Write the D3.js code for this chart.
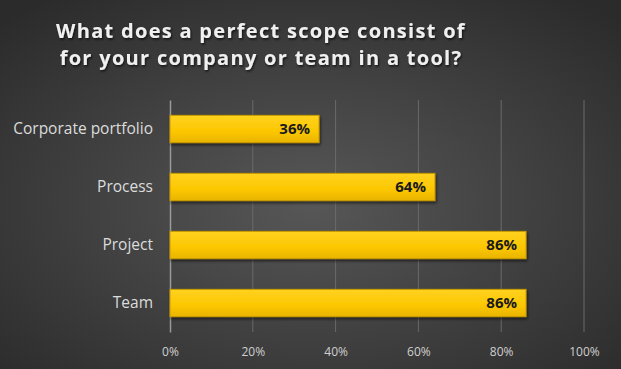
<!DOCTYPE html>
<html>
<head>
<meta charset="utf-8">
<script src="https://cdn.jsdelivr.net/npm/d3@7"></script>
<style>
  html, body { margin: 0; padding: 0; background: #333; }
  svg { display: block; }
</style>
</head>
<body>
<div id="chart"></div>
<script>
// données du graphique
const titleLines = ["What does a perfect scope consist of", "for your company or team in a tool?"];
const categories = ["Corporate portfolio", "Process", "Project", "Team"];
const values = [0.36, 0.64, 0.86, 0.86];
const ticks = [0, 0.2, 0.4, 0.6, 0.8, 1];

const width = 621, height = 369;
const margin = { top: 100, right: 37, bottom: 37, left: 170 };

const svg = d3.select("#chart").append("svg")
    .attr("width", width)
    .attr("height", height);

const defs = svg.append("defs");

const bg = defs.append("radialGradient")
    .attr("id", "bg")
    .attr("cx", "50%").attr("cy", "55%").attr("r", "70%");
bg.append("stop").attr("offset", "0%").attr("stop-color", "#575757");
bg.append("stop").attr("offset", "100%").attr("stop-color", "#2b2b2b");

const barGrad = defs.append("linearGradient")
    .attr("id", "bar")
    .attr("x1", "0%").attr("y1", "0%").attr("x2", "0%").attr("y2", "100%");
barGrad.append("stop").attr("offset", "0%").attr("stop-color", "#ffd21f");
barGrad.append("stop").attr("offset", "60%").attr("stop-color", "#fcc700");
barGrad.append("stop").attr("offset", "100%").attr("stop-color", "#e8b400");

const shadow = defs.append("filter").attr("id", "shadow")
    .attr("x", "-5%").attr("y", "-20%").attr("width", "110%").attr("height", "160%");
shadow.append("feDropShadow")
    .attr("dx", 1).attr("dy", 2).attr("stdDeviation", 1.5)
    .attr("flood-color", "#000").attr("flood-opacity", 0.6);

const textShadow = defs.append("filter").attr("id", "tshadow");
textShadow.append("feDropShadow")
    .attr("dx", 1).attr("dy", 1.5).attr("stdDeviation", 1)
    .attr("flood-color", "#000").attr("flood-opacity", 0.7);

svg.append("rect")
    .attr("width", width).attr("height", height)
    .attr("fill", "url(#bg)");

// titre
svg.append("text")
    .attr("text-anchor", "middle")
    .attr("font-family", "'Open Sans', sans-serif")
    .attr("font-weight", "bold")
    .attr("font-size", "20px")
    .attr("letter-spacing", "1.3px")
    .attr("fill", "#f0f0f0")
    .attr("filter", "url(#tshadow)")
    .selectAll("tspan")
    .data(titleLines)
    .join("tspan")
    .attr("x", 261)
    .attr("y", (d, i) => 38 + i * 27)
    .text(d => d);

const x = d3.scaleLinear()
    .domain([0, 1])
    .range([margin.left, width - margin.right]);

const y = d3.scaleBand()
    .domain(categories)
    .range([margin.top, height - margin.bottom])
    .paddingInner(0.53)
    .paddingOuter(0.265);

// grille
svg.append("g")
    .selectAll("line")
    .data(ticks.slice(1))
    .join("line")
    .attr("x1", d => x(d)).attr("x2", d => x(d))
    .attr("y1", margin.top).attr("y2", height - margin.bottom)
    .attr("stroke", "#6a6a6a")
    .attr("stroke-width", 1);

// axe x
const xAxis = svg.append("g")
    .attr("transform", `translate(0, ${height - margin.bottom})`)
    .call(d3.axisBottom(x).tickValues(ticks).tickFormat(d3.format(".0%")).tickSize(0).tickPadding(15));
xAxis.select(".domain").remove();
xAxis.selectAll("text")
    .attr("fill", "#cfcfcf")
    .attr("font-family", "'Open Sans', sans-serif")
    .attr("font-size", "12px");

// axe y
const yAxis = svg.append("g")
    .attr("transform", `translate(${margin.left}, 0)`)
    .call(d3.axisLeft(y).tickSize(0).tickPadding(17));
yAxis.select(".domain")
    .attr("stroke", "#9a9a9a")
    .attr("stroke-width", 1.5);
yAxis.selectAll("text")
    .attr("fill", "#dcdcdc")
    .attr("font-family", "'Open Sans', sans-serif")
    .attr("font-size", "15.5px");

// barres
svg.append("g")
    .selectAll("rect")
    .data(values)
    .join("rect")
    .attr("x", x(0))
    .attr("y", (d, i) => y(categories[i]))
    .attr("width", d => x(d) - x(0))
    .attr("height", y.bandwidth())
    .attr("fill", "url(#bar)")
    .attr("stroke", "#c99a00")
    .attr("stroke-width", 1)
    .attr("filter", "url(#shadow)");

// étiquettes
svg.append("g")
    .selectAll("text")
    .data(values)
    .join("text")
    .attr("x", d => x(d) - 9)
    .attr("y", (d, i) => y(categories[i]) + y.bandwidth() / 2)
    .attr("dy", "0.36em")
    .attr("text-anchor", "end")
    .attr("font-family", "'Open Sans', sans-serif")
    .attr("font-weight", "bold")
    .attr("font-size", "15px")
    .attr("fill", "#1a1a1a")
    .text(d => d3.format(".0%")(d));
</script>
</body>
</html>
